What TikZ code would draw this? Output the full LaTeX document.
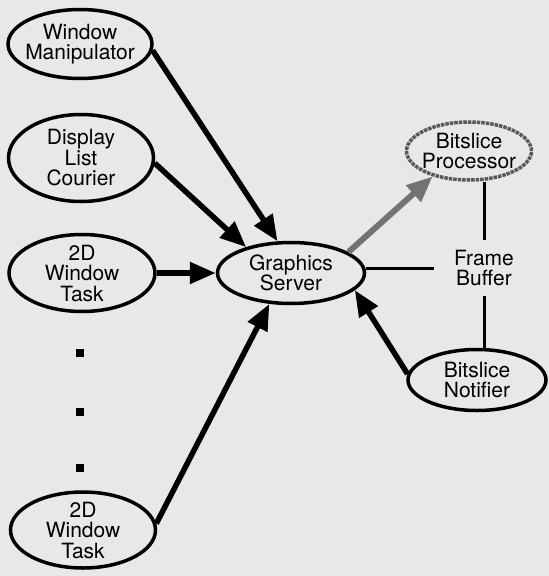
\documentclass[tikz,border=0pt]{standalone}
\usepackage{fontspec}
\setmainfont{TeX Gyre Heros}
\usetikzlibrary{shapes.geometric, arrows.meta}
\tikzset{
proc/.style={draw, ellipse, line width=3.5pt, inner sep=0pt}, % the ellipse round each process
txt/.style={font=\fontsize{21}{20.5}\selectfont, align=center}, % the text inside a process
link/.style={line width=5.5pt, -{Triangle[length=26pt, width=21pt]}}, % bold message arrow
feed/.style={line width=6pt, draw=black!55, -{Triangle[length=26pt, width=21pt]}}, % the grey arrow to the bitslice
wire/.style={line width=3pt}, % plain line to the frame buffer
dot/.style={fill, minimum size=8pt, inner sep=0pt}, % the dots between the tasks
}
\begin{document}
\begin{tikzpicture}[x=1pt, y=-1pt]
    \fill[black!9] (0,0) rectangle (549,576); % paper
    \node[proc, minimum width=144pt, minimum height=69pt, label={[txt]center:Window\\Manipulator}] (wm) at (80,44) {};
    \node[proc, minimum width=145pt, minimum height=87pt, label={[txt]center:Display\\List\\Courier}] (dlc) at (81,158) {};
    \node[proc, minimum width=146pt, minimum height=77pt, label={[txt]center:2D\\Window\\Task}] (wt1) at (82,273) {};
    \node[dot] (d1) at (80,353) {};
    \node[dot] (d2) at (80,412) {};
    \node[dot] (d3) at (80,468) {};
    \node[proc, minimum width=145pt, minimum height=76pt, label={[txt]center:2D\\Window\\Task}] (wt2) at (83,530) {};
    \node[proc, minimum width=147pt, minimum height=61pt, label={[txt]center:Graphics\\Server}] (gs) at (291,273) {};
    \node[proc, draw=black!65, densely dotted, minimum width=125pt, minimum height=58pt, label={[txt]center:Bitslice\\Processor}] (bp) at (469,151) {};
    \node[txt, inner xsep=20pt, inner ysep=10pt] (fb) at (484,268) {Frame\\Buffer};
    \node[proc, minimum width=138pt, minimum height=61pt, label={[txt]center:Bitslice\\Notifier}] (bn) at (477,380) {};
    \draw[link] (wm.-5) -- (gs.113);
    \draw[link] (dlc.-4) -- (gs.150);
    \draw[link] (wt1) -- (gs);
    \draw[link] (wt2.5) -- (gs.-125);
    \draw[link] (bn.175) -- (gs.-15);
    \draw[feed] (gs.20) -- (bp.-145);
    \draw[wire] (bp.south -| fb.north) -- (fb.north);
    \draw[wire] (fb.west) -- (fb.west -| gs.east);
    \draw[wire] (fb.south) -- (bn.north -| fb.south);
  \end{tikzpicture}
\end{document}
